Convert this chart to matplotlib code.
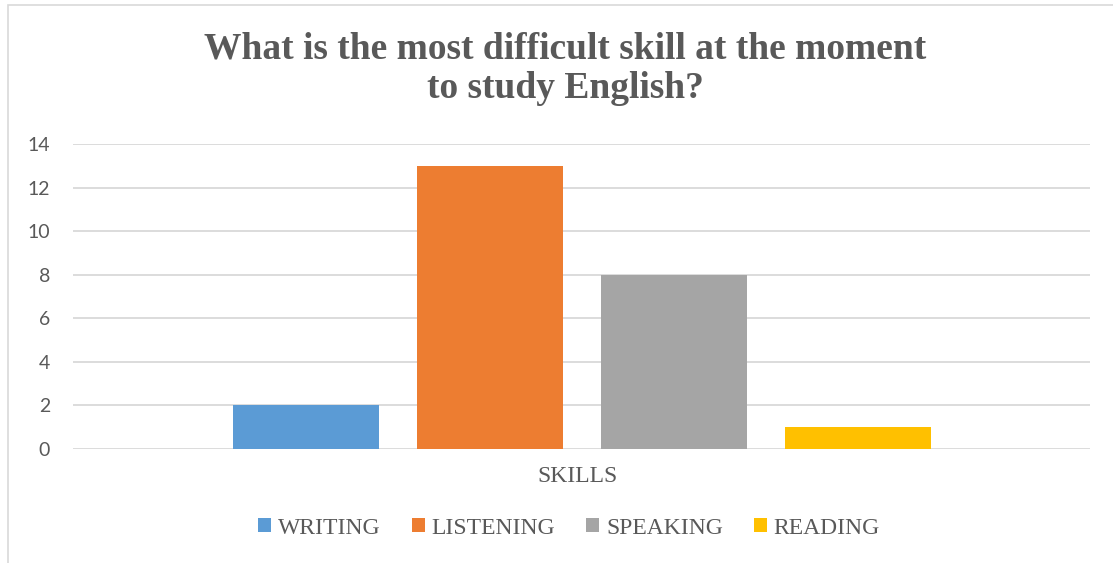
import matplotlib.pyplot as plt
from matplotlib.patches import Rectangle

# data
category = 'SKILLS'
series = ['WRITING', 'LISTENING', 'SPEAKING', 'READING']
values = [2, 13, 8, 1]
colors = ['#5B9BD5', '#ED7D31', '#A5A5A5', '#FFC000']
y_ticks = [0, 2, 4, 6, 8, 10, 12, 14]

W, H = 1113, 563
fig = plt.figure(figsize=(W / 100, H / 100), dpi=100)

# light chart border (only top/left visible in the reference)
fig.patches.append(Rectangle((8 / W, -0.1), 1.2, 1 - 5 / H + 0.1, transform=fig.transFigure,
                             fill=False, edgecolor='#d9d9d9', linewidth=1.2))

ax = fig.add_axes([73 / W, 1 - 449 / H, (1090 - 73) / W, (449 - 144) / H])

bar_w = 146 / 1017
step = 184 / 1017
for i, (name, v, c) in enumerate(zip(series, values, colors)):
    ax.bar((i - 1.5) * step, v, width=bar_w, color=c, label=name, zorder=3)

ax.set_xlim(-0.5, 0.5)
ax.set_ylim(0, 14)
ax.set_yticks(y_ticks)
ax.set_xticks([])
ax.grid(axis='y', color='#d9d9d9', linewidth=1.3, zorder=0)
for s in ax.spines.values():
    s.set_visible(False)
ax.tick_params(axis='y', length=0, pad=16.5, labelsize=14, labelcolor='#595959')
for lab in ax.get_yticklabels():
    lab.set_family('Lato')

fig.text(578 / W, 1 - 477 / H, category, ha='center', va='center',
         family='Liberation Serif', fontsize=17, color='#595959')

fig.text(565 / W, 1 - 69 / H, 'What is the most difficult skill at the moment\nto study English?',
         ha='center', va='center', family='Liberation Serif', fontweight='bold',
         fontsize=27, color='#595959', linespacing=1.17)

leg = fig.legend(loc='center', bbox_to_anchor=(569 / W, 1 - 528 / H), ncol=4, frameon=False,
                 handlelength=0.55, handleheight=0.55, handletextpad=0.3, columnspacing=1.3,
                 prop={'family': 'Liberation Serif', 'size': 17})
for t in leg.get_texts():
    t.set_color('#595959')

fig.savefig('out.png', dpi=100)
